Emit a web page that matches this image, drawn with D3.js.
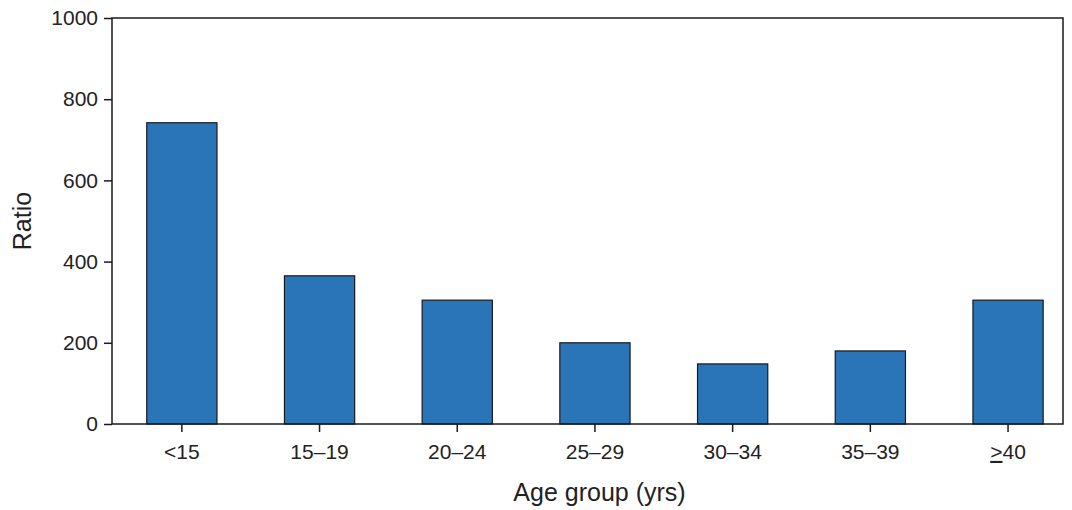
<!DOCTYPE html>
<html><head><meta charset="utf-8">
<script src="https://cdn.jsdelivr.net/npm/d3@7"></script>
<style>body{margin:0;background:#fff}text{font-family:"Liberation Sans",Arial,sans-serif;fill:#222}</style>
</head><body><svg id="svg"></svg>
<script>
const W = 1072, H = 510;
const categories = ["<15", "15\u201319", "20\u201324", "25\u201329", "30\u201334", "35\u201339", ">40"];
const values = [742, 365, 305, 200, 148, 180, 305];
const yTicks = [0, 200, 400, 600, 800, 1000];

const svg = d3.select("#svg").attr("width", W).attr("height", H);
const mLeft = 112, mRight = 1063, mTop = 18, mBottom = 424;

const x = d3.scaleBand().domain(categories).range([mLeft + 1, mLeft + 1 + 7 * 137.7]).paddingInner(0.49).paddingOuter(0.245);
const y = d3.scaleLinear().domain([0, 1000]).range([mBottom, mTop]);

svg.selectAll("rect.bar").data(values).enter().append("rect")
    .attr("x", (d, i) => x(categories[i]))
    .attr("width", x.bandwidth())
    .attr("y", d => y(d))
    .attr("height", d => y(0) - y(d))
    .attr("fill", "#2a74b8")
    .attr("stroke", "#1a1a1a")
    .attr("stroke-width", 1.2);

svg.append("rect").attr("x", mLeft).attr("y", mTop).attr("width", mRight - mLeft).attr("height", mBottom - mTop)
    .attr("fill", "none").attr("stroke", "#1a1a1a").attr("stroke-width", 1.5);

const ya = svg.append("g").attr("transform", `translate(${mLeft},0)`)
    .call(d3.axisLeft(y).tickValues(yTicks).tickFormat(d3.format("d")).tickSize(8).tickPadding(6));
ya.select(".domain").remove();
ya.selectAll("line").attr("stroke", "#1a1a1a").attr("stroke-width", 1.5);
ya.selectAll("text").style("font-size", "21px").attr("fill", "#222");

const xa = svg.append("g").attr("transform", `translate(0,${mBottom})`)
    .call(d3.axisBottom(x).tickSize(8).tickPadding(12));
xa.select(".domain").remove();
xa.selectAll("line").attr("stroke", "#1a1a1a").attr("stroke-width", 1.5);
xa.selectAll("text").style("font-size", "21px").attr("fill", "#222");
// underlined ">" for ">= 40"
xa.selectAll("text").filter(d => d === ">40").text(null).each(function () {
    const t = d3.select(this);
    t.append("tspan").attr("text-decoration", "underline").text(">");
    t.append("tspan").text("40");
});

svg.append("text").attr("x", (mLeft + mRight) / 2 + 12).attr("y", 501).attr("text-anchor", "middle")
    .style("font-size", "25px").text("Age group (yrs)");
svg.append("text").attr("transform", `translate(31,${(mTop + mBottom) / 2}) rotate(-90)`).attr("text-anchor", "middle")
    .style("font-size", "25px").text("Ratio");
</script></body></html>
